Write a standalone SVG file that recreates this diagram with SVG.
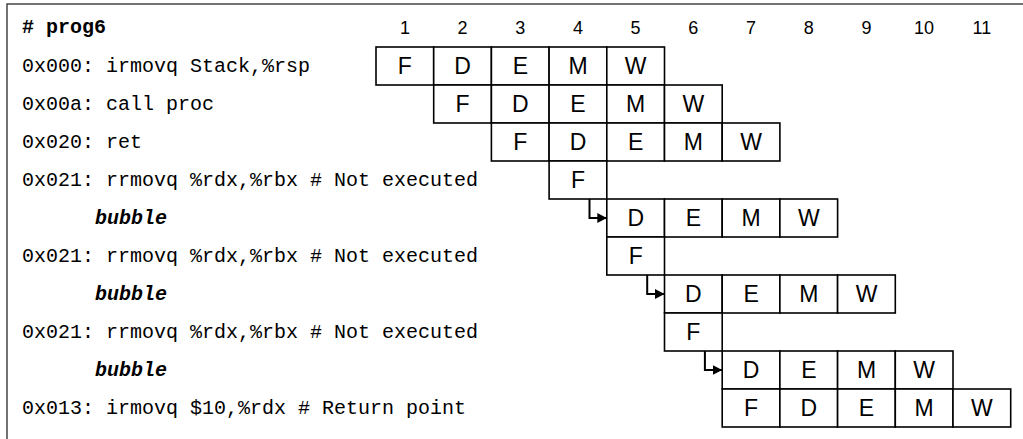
<svg xmlns="http://www.w3.org/2000/svg" width="1023" height="439" viewBox="0 0 1023 439">
<style>
.frame{fill:none;stroke:#444;stroke-width:1.5}
.cell{fill:#fff;stroke:#000;stroke-width:1.6}
.st{font-family:"Liberation Sans",Arial,sans-serif;font-size:23px;text-anchor:middle;fill:#000}
.num{font-family:"Liberation Sans",Arial,sans-serif;font-size:18px;text-anchor:middle;fill:#000}
.code{font-family:"Liberation Mono","Courier New",monospace;font-size:20px;fill:#000}
.hdr{font-family:"Liberation Mono","Courier New",monospace;font-size:20px;font-weight:bold;fill:#000}
.bub{font-family:"Liberation Mono","Courier New",monospace;font-size:20px;font-weight:bold;font-style:italic;fill:#000}
.conn{fill:none;stroke:#000;stroke-width:2}
</style>
<defs>
<marker id="ah" markerUnits="userSpaceOnUse" markerWidth="11" markerHeight="11" refX="9.5" refY="5" orient="auto">
<path d="M0,0 L9.5,5 L0,10 z" fill="#000"/>
</marker>
</defs>
<rect class="frame" x="7" y="4" width="1040" height="460"/>
<g id="header">
<text class="hdr" x="22" y="33"># prog6</text>
<text class="num" x="405" y="34">1</text>
<text class="num" x="462.5" y="34">2</text>
<text class="num" x="520.2" y="34">3</text>
<text class="num" x="578" y="34">4</text>
<text class="num" x="635.6" y="34">5</text>
<text class="num" x="693.3" y="34">6</text>
<text class="num" x="751" y="34">7</text>
<text class="num" x="808.7" y="34">8</text>
<text class="num" x="866.4" y="34">9</text>
<text class="num" x="924.1" y="34">10</text>
<text class="num" x="981.8" y="34">11</text>
</g>
<g id="row1">
<text class="code" x="22" y="72">0x000: irmovq Stack,%rsp</text>
<rect class="cell" x="376" y="47" width="57.7" height="38"/><text class="st" x="404.9" y="74">F</text>
<rect class="cell" x="433.7" y="47" width="57.7" height="38"/><text class="st" x="462.6" y="74">D</text>
<rect class="cell" x="491.4" y="47" width="57.7" height="38"/><text class="st" x="520.3" y="74">E</text>
<rect class="cell" x="549.1" y="47" width="57.7" height="38"/><text class="st" x="578" y="74">M</text>
<rect class="cell" x="606.8" y="47" width="57.7" height="38"/><text class="st" x="635.7" y="74">W</text>
</g>
<g id="row2">
<text class="code" x="22" y="110">0x00a: call proc</text>
<rect class="cell" x="433.7" y="85" width="57.7" height="38"/><text class="st" x="462.6" y="112">F</text>
<rect class="cell" x="491.4" y="85" width="57.7" height="38"/><text class="st" x="520.3" y="112">D</text>
<rect class="cell" x="549.1" y="85" width="57.7" height="38"/><text class="st" x="578" y="112">E</text>
<rect class="cell" x="606.8" y="85" width="57.7" height="38"/><text class="st" x="635.7" y="112">M</text>
<rect class="cell" x="664.5" y="85" width="57.7" height="38"/><text class="st" x="693.4" y="112">W</text>
</g>
<g id="row3">
<text class="code" x="22" y="148">0x020: ret</text>
<rect class="cell" x="491.4" y="123" width="57.7" height="38"/><text class="st" x="520.3" y="150">F</text>
<rect class="cell" x="549.1" y="123" width="57.7" height="38"/><text class="st" x="578" y="150">D</text>
<rect class="cell" x="606.8" y="123" width="57.7" height="38"/><text class="st" x="635.7" y="150">E</text>
<rect class="cell" x="664.5" y="123" width="57.7" height="38"/><text class="st" x="693.4" y="150">M</text>
<rect class="cell" x="722.2" y="123" width="57.7" height="38"/><text class="st" x="751.1" y="150">W</text>
</g>
<g id="row4">
<text class="code" x="22" y="186">0x021: rrmovq %rdx,%rbx # Not executed</text>
<rect class="cell" x="549.1" y="161" width="57.7" height="38"/><text class="st" x="578" y="188">F</text>
</g>
<g id="row5">
<text class="bub" x="95" y="224">bubble</text>
<rect class="cell" x="606.8" y="199" width="57.7" height="38"/><text class="st" x="635.7" y="226">D</text>
<rect class="cell" x="664.5" y="199" width="57.7" height="38"/><text class="st" x="693.4" y="226">E</text>
<rect class="cell" x="722.2" y="199" width="57.7" height="38"/><text class="st" x="751.1" y="226">M</text>
<rect class="cell" x="779.9" y="199" width="57.7" height="38"/><text class="st" x="808.8" y="226">W</text>
</g>
<g id="row6">
<text class="code" x="22" y="262">0x021: rrmovq %rdx,%rbx # Not executed</text>
<rect class="cell" x="606.8" y="237" width="57.7" height="38"/><text class="st" x="635.7" y="264">F</text>
</g>
<g id="row7">
<text class="bub" x="95" y="300">bubble</text>
<rect class="cell" x="664.5" y="275" width="57.7" height="38"/><text class="st" x="693.4" y="302">D</text>
<rect class="cell" x="722.2" y="275" width="57.7" height="38"/><text class="st" x="751.1" y="302">E</text>
<rect class="cell" x="779.9" y="275" width="57.7" height="38"/><text class="st" x="808.8" y="302">M</text>
<rect class="cell" x="837.6" y="275" width="57.7" height="38"/><text class="st" x="866.5" y="302">W</text>
</g>
<g id="row8">
<text class="code" x="22" y="338">0x021: rrmovq %rdx,%rbx # Not executed</text>
<rect class="cell" x="664.5" y="313" width="57.7" height="38"/><text class="st" x="693.4" y="340">F</text>
</g>
<g id="row9">
<text class="bub" x="95" y="376">bubble</text>
<rect class="cell" x="722.2" y="351" width="57.7" height="38"/><text class="st" x="751.1" y="378">D</text>
<rect class="cell" x="779.9" y="351" width="57.7" height="38"/><text class="st" x="808.8" y="378">E</text>
<rect class="cell" x="837.6" y="351" width="57.7" height="38"/><text class="st" x="866.5" y="378">M</text>
<rect class="cell" x="895.3" y="351" width="57.7" height="38"/><text class="st" x="924.2" y="378">W</text>
</g>
<g id="row10">
<text class="code" x="22" y="414">0x013: irmovq $10,%rdx # Return point</text>
<rect class="cell" x="722.2" y="389" width="57.7" height="38"/><text class="st" x="751.1" y="416">F</text>
<rect class="cell" x="779.9" y="389" width="57.7" height="38"/><text class="st" x="808.8" y="416">D</text>
<rect class="cell" x="837.6" y="389" width="57.7" height="38"/><text class="st" x="866.5" y="416">E</text>
<rect class="cell" x="895.3" y="389" width="57.7" height="38"/><text class="st" x="924.2" y="416">M</text>
<rect class="cell" x="953" y="389" width="57.7" height="38"/><text class="st" x="981.9" y="416">W</text>
</g>
<g id="connectors">
<path class="conn" d="M589.5,199 V218 H606.8" marker-end="url(#ah)"/>
<path class="conn" d="M647.2,275 V294 H664.5" marker-end="url(#ah)"/>
<path class="conn" d="M704.9,351 V370 H722.2" marker-end="url(#ah)"/>
</g>
</svg>
